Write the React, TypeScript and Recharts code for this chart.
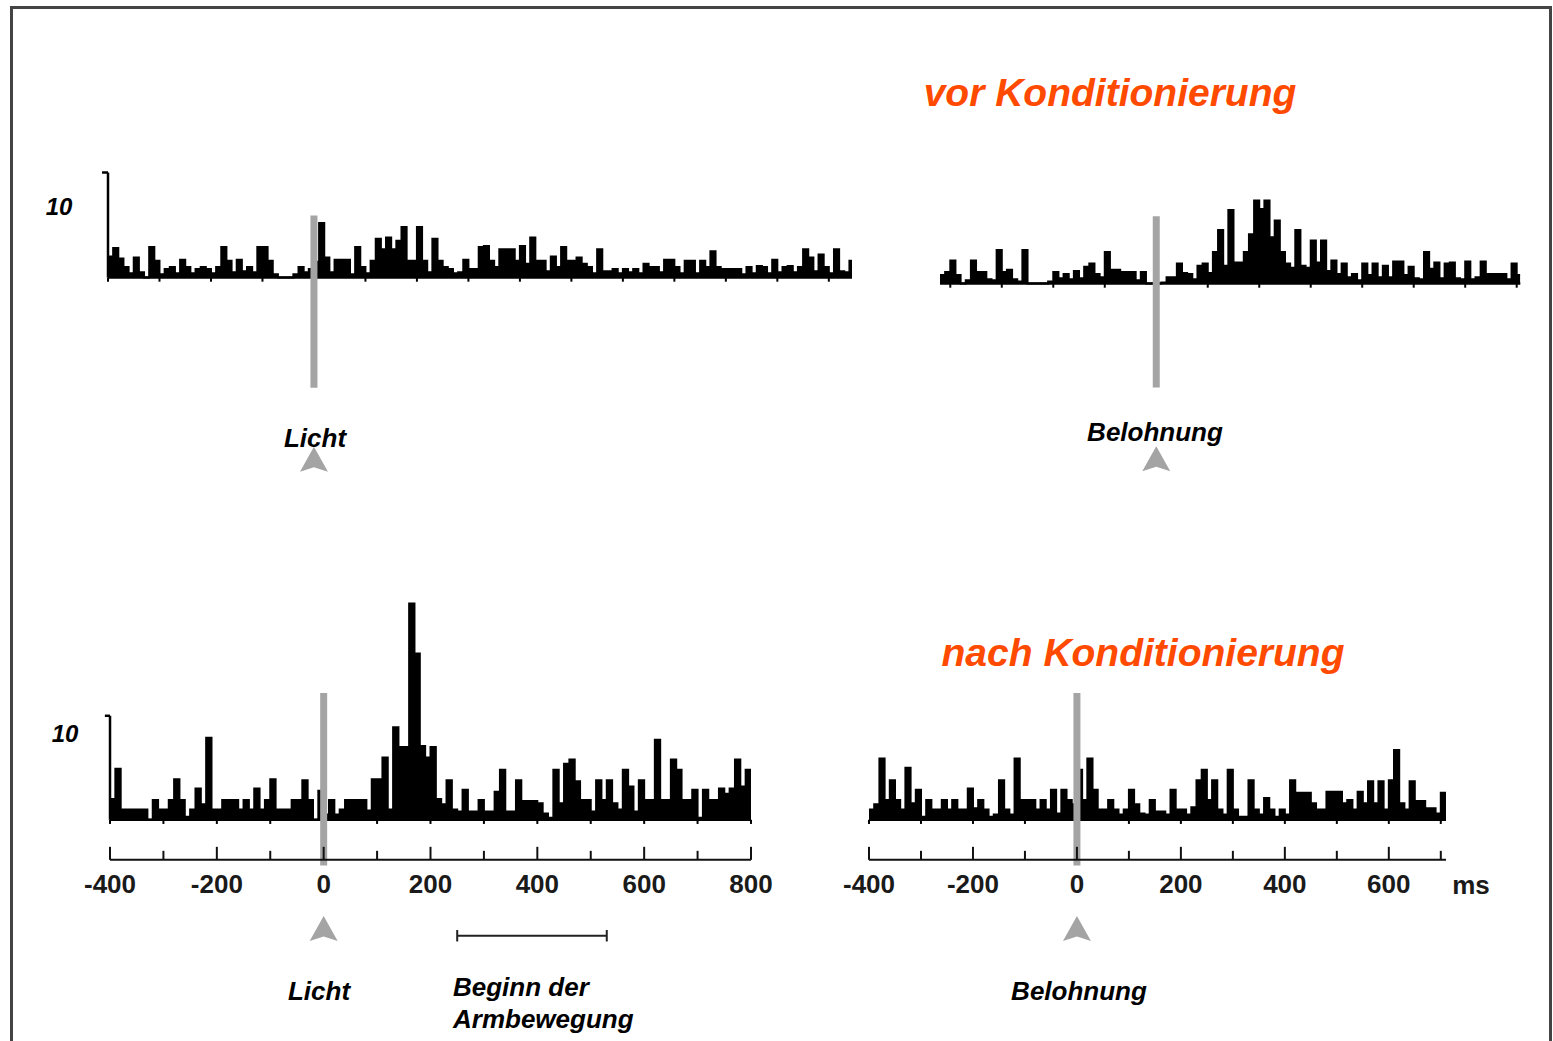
import React from 'react';
import { ComposedChart, Area, XAxis, YAxis, ReferenceLine, ReferenceDot } from 'recharts';

// bin width of all histograms, ms
const BIN = 10;

// vor Konditionierung, aligned on Licht (bins from -400 ms)
const vorLichtStart = -400;
const vorLichtEnd = 1045;
const vorLicht = [
  2.0, 2.8, 1.8, 1.0, 0.4, 1.9, 0.5, 0, 2.9, 1.6,
  0.3, 0.8, 1.0, 0.4, 1.7, 1.0, 0.4, 0.8, 1.0, 0.8,
  0.4, 1.0, 2.9, 1.6, 0.5, 1.7, 0.6, 1.0, 0.5, 2.9,
  2.9, 1.6, 0.3, 0, 0, 0, 0.3, 1.0, 0.5, 0.8,
  1.5, 5.2, 1.9, 0.5, 1.7, 1.7, 1.7, 0.3, 2.9, 1.0,
  0.4, 1.6, 3.7, 2.7, 3.8, 2.7, 3.5, 4.8, 1.6, 1.6,
  4.8, 1.6, 0.5, 3.7, 1.6, 1.0, 0.8, 0.4, 0.5, 1.7,
  0.8, 0.8, 2.9, 3.0, 1.6, 1.0, 2.7, 2.7, 2.7, 1.6,
  3.0, 1.3, 3.8, 1.6, 1.6, 0.6, 2.0, 1.0, 2.9, 1.6,
  1.6, 1.9, 1.3, 1.0, 0.4, 2.7, 0.6, 0.6, 0.8, 0.4,
  0.8, 0.5, 0.8, 0.4, 1.3, 1.0, 1.0, 0.5, 1.7, 1.7,
  1.0, 0.4, 1.6, 1.6, 0.4, 1.6, 1.0, 2.5, 1.0, 0.8,
  0.8, 0.8, 0.8, 0.3, 1.0, 0.4, 1.1, 1.0, 0.4, 1.7,
  0.5, 1.0, 1.1, 0.5, 1.0, 2.7, 1.9, 0.6, 2.2, 1.0,
  0.4, 2.7, 0.6, 0.5, 1.6,
];

// vor Konditionierung, aligned on Belohnung (bins from -420 ms)
const vorLohnStart = -420;
const vorLohnEnd = 707;
const vorLohn = [
  0.8, 1.1, 2.2, 0.8, 0, 0.3, 2.2, 1.1, 1.1, 0.4,
  0.3, 3.2, 1.1, 1.3, 0.4, 0.2, 3.2, 0, 0, 0,
  0, 0.2, 1.1, 0.5, 0.9, 0.4, 1.2, 0.5, 1.6, 1.9,
  0.9, 0.6, 3.0, 1.3, 1.3, 1.1, 1.1, 1.1, 0.3, 1.1,
  0, 0, 0, 0.1, 0.6, 0.6, 1.9, 1.0, 0.9, 0.4,
  1.7, 1.9, 1.0, 3.0, 5.1, 1.7, 7.0, 2.0, 2.0, 3.0,
  4.7, 7.9, 7.1, 7.9, 4.4, 6.0, 3.0, 1.9, 1.5, 5.1,
  1.7, 1.5, 4.1, 2.0, 4.1, 1.2, 2.2, 0.9, 1.9, 0.6,
  0.9, 0.3, 1.9, 0.8, 1.9, 0.6, 1.7, 0.6, 2.1, 2.1,
  0.8, 1.6, 0.5, 0.4, 3.0, 1.4, 2.0, 0.5, 1.9, 2.0,
  0.5, 0.4, 2.1, 0.4, 0.6, 2.1, 0.9, 0.9, 0.9, 0.9,
  0.4, 1.9, 0.8,
];

// nach Konditionierung, aligned on Licht
const nachLichtStart = -400;
const nachLichtEnd = 800;
const nachLicht = [
  2.0, 4.9, 1.0, 1.0, 1.0, 1.0, 1.0, 0, 1.9, 1.0,
  1.0, 1.9, 3.9, 1.9, 0.3, 1.0, 3.0, 1.5, 7.9, 1.0,
  1.0, 1.9, 1.9, 1.9, 1.0, 1.9, 1.0, 3.0, 1.0, 1.9,
  3.9, 1.0, 1.0, 1.0, 1.9, 1.9, 3.8, 1.9, 0, 2.8,
  0.5, 1.9, 0.5, 1.0, 1.9, 1.9, 1.9, 1.9, 0.9, 3.9,
  3.9, 6.0, 1.0, 8.9, 7.0, 7.0, 20.8, 16.0, 7.1, 6.0,
  7.0, 2.0, 1.5, 3.8, 1.0, 0.8, 2.9, 0.8, 0.8, 1.9,
  0.8, 0.8, 2.7, 4.8, 0.8, 0.8, 3.8, 1.8, 1.8, 1.8,
  1.6, 0.6, 0.2, 4.8, 1.6, 5.4, 5.8, 3.7, 1.9, 1.9,
  0.8, 3.8, 1.9, 3.8, 1.6, 1.0, 4.8, 3.2, 0.8, 3.8,
  1.9, 1.9, 7.7, 1.9, 1.9, 5.8, 4.8, 1.9, 1.9, 2.9,
  0.2, 2.9, 1.9, 1.9, 3.0, 2.5, 3.0, 5.8, 3.2, 4.8,
];

// nach Konditionierung, aligned on Belohnung
const nachLohnStart = -400;
const nachLohnEnd = 710;
const nachLohn = [
  1.0, 1.5, 5.9, 1.9, 3.8, 1.9, 1.0, 5.0, 1.6, 2.9,
  0.3, 1.9, 1.0, 1.0, 1.9, 1.0, 1.9, 1.0, 1.0, 3.0,
  1.1, 1.9, 1.0, 0.3, 0.5, 3.8, 1.0, 0.5, 5.9, 1.9,
  1.9, 1.9, 1.0, 1.9, 1.0, 2.9, 0.6, 2.9, 1.9, 1.5,
  4.8, 1.9, 5.9, 2.9, 1.0, 1.0, 1.9, 1.0, 0.5, 1.0,
  2.9, 1.5, 0.6, 0.5, 1.9, 0.8, 0.8, 0.5, 2.9, 1.0,
  1.0, 0.5, 1.2, 3.8, 4.8, 1.9, 3.8, 1.0, 0.5, 4.8,
  1.0, 0.3, 0.3, 3.8, 1.0, 0.5, 2.1, 1.0, 0.3, 1.0,
  0.5, 3.8, 2.6, 2.6, 2.6, 1.6, 1.0, 1.0, 2.7, 2.7,
  2.7, 1.6, 1.9, 1.0, 2.7, 1.6, 3.7, 1.6, 3.7, 1.0,
  3.8, 6.7, 1.6, 1.0, 3.7, 1.8, 1.8, 1.1, 1.1, 0.6,
  2.6,
];

// tick marks (every 100 ms) and labelled axis values
const ticksVorLicht = [-400, -300, -200, -100, 0, 100, 200, 300, 400, 500, 600, 700, 800, 900, 1000];
const ticksVorLohn = [-400, -300, -200, -100, 0, 100, 200, 300, 400, 500, 600, 700];
const ticksNachLicht = [-400, -300, -200, -100, 0, 100, 200, 300, 400, 500, 600, 700, 800];
const ticksNachLohn = [-400, -300, -200, -100, 0, 100, 200, 300, 400, 500, 600, 700];

// Beginn der Armbewegung, ms
const armRange = [250, 530];
const scaleValue = 10;

const FONT = '"Liberation Sans", Arial, sans-serif';
const CUE_GRAY = '#a4a4a4';
const ML = 40;
const MR = 40;
const MT = 10;
const AXIS_H = 40;
const MB = 110;

const toSteps = (vals: number[], start: number, end: number) => {
  const pts = vals.map((v, i) => ({ x: start + i * BIN, v }));
  pts.push({ x: end, v: vals[vals.length - 1] });
  return pts;
};

const AxisTick = (props: any) => {
  const { x, y, payload } = props;
  const major = payload.value % 200 === 0;
  return (
    <g>
      <line x1={x} x2={x} y1={y} y2={y - (major ? 13 : 9)} stroke="#111" strokeWidth={2} />
      {major && (
        <text x={x} y={y + 33} textAnchor="middle" fontFamily={FONT} fontWeight="bold" fontSize={26} fill="#1a1a1a">
          {payload.value}
        </text>
      )}
    </g>
  );
};

const Arrow = (props: any) => {
  const { cx, cy } = props;
  return (
    <path
      d={`M${cx},${cy - 12.5} L${cx + 14},${cy + 12.5} L${cx},${cy + 8} L${cx - 14},${cy + 12.5} Z`}
      fill={CUE_GRAY}
    />
  );
};

type PanelProps = {
  vals: number[];
  start: number;
  end: number;
  ticks: number[];
  x0: number;
  x1: number;
  base: number;
  k: number;
  yDomain: [number, number];
  cue: [number, number];
  arrowY: number;
  scaleBar?: boolean;
  axis?: boolean;
  bracketY?: number;
};

const Panel = (p: PanelProps) => {
  const data = toSteps(p.vals, p.start, p.end);
  const [yMin, yMax] = p.yDomain;
  const plotH = (yMax - yMin) * p.k;
  const plotTop = p.base - yMax * p.k;
  const width = p.x1 - p.x0 + ML + MR;
  const height = MT + plotH + (p.axis ? AXIS_H + MB : MT);
  const hook = (p.end - p.start) * 0.008;
  return (
    <div style={{ position: 'absolute', left: p.x0 - ML, top: plotTop - MT }}>
      <ComposedChart
        width={width}
        height={height}
        data={data}
        margin={{ top: MT, right: MR, left: ML, bottom: p.axis ? MB : MT }}
      >
        <XAxis
          type="number"
          dataKey="x"
          domain={[p.start, p.end]}
          allowDataOverflow
          hide={!p.axis}
          ticks={p.ticks}
          interval={0}
          height={AXIS_H}
          axisLine={{ stroke: '#111', strokeWidth: 2 }}
          tickLine={false}
          tickSize={0}
          tickMargin={0}
          tick={(tp: any) => <AxisTick {...tp} />}
        />
        <YAxis type="number" domain={p.yDomain} allowDataOverflow hide />
        <Area
          type="stepAfter"
          dataKey="v"
          baseValue={0}
          fill="#000"
          fillOpacity={1}
          stroke="#000"
          strokeWidth={2}
          dot={false}
          activeDot={false}
          isAnimationActive={false}
        />
        <ReferenceLine
          segment={[{ x: p.start, y: 0 }, { x: p.end, y: 0 }]}
          stroke="#000"
          strokeWidth={2.5}
          ifOverflow="visible"
        />
        {p.ticks.map((t) => (
          <ReferenceLine
            key={t}
            segment={[{ x: t, y: 0 }, { x: t, y: -0.4 }]}
            stroke="#000"
            strokeWidth={2}
            ifOverflow="visible"
          />
        ))}
        {p.scaleBar && (
          <ReferenceLine
            segment={[{ x: p.start, y: 0 }, { x: p.start, y: scaleValue }]}
            stroke="#000"
            strokeWidth={2.5}
            ifOverflow="visible"
          />
        )}
        {p.scaleBar && (
          <ReferenceLine
            segment={[{ x: p.start - hook, y: scaleValue }, { x: p.start, y: scaleValue }]}
            stroke="#000"
            strokeWidth={2.5}
            ifOverflow="visible"
          />
        )}
        <ReferenceLine
          segment={[{ x: 0, y: p.cue[0] }, { x: 0, y: p.cue[1] }]}
          stroke={CUE_GRAY}
          strokeWidth={7}
          ifOverflow="visible"
        />
        <ReferenceDot x={0} y={p.arrowY} r={12} shape={(dp: any) => <Arrow {...dp} />} ifOverflow="visible" />
        {p.bracketY !== undefined && (
          <ReferenceLine
            segment={[{ x: armRange[0], y: p.bracketY }, { x: armRange[1], y: p.bracketY }]}
            stroke="#222"
            strokeWidth={2}
            ifOverflow="visible"
          />
        )}
        {p.bracketY !== undefined &&
          armRange.map((a) => (
            <ReferenceLine
              key={a}
              segment={[{ x: a, y: p.bracketY! + 0.55 }, { x: a, y: p.bracketY! - 0.55 }]}
              stroke="#222"
              strokeWidth={2}
              ifOverflow="visible"
            />
          ))}
      </ComposedChart>
    </div>
  );
};

const Label = ({ x, y, text, size = 26, color = '#000', italic = true, align = 'center' }: any) => (
  <div
    style={{
      position: 'absolute',
      left: x,
      top: y,
      transform: align === 'center' ? 'translate(-50%, -50%)' : 'translate(0, -50%)',
      fontFamily: FONT,
      fontWeight: 'bold',
      fontStyle: italic ? 'italic' : 'normal',
      fontSize: size,
      color,
      whiteSpace: 'nowrap',
      lineHeight: 1,
    }}
  >
    {text}
  </div>
);

export default function App() {
  return (
    <div
      style={{
        position: 'absolute',
        left: 0,
        top: 0,
        width: 1553,
        height: 1041,
        background: '#fff',
        overflow: 'hidden',
      }}
    >
      <div
        style={{
          position: 'absolute',
          left: 10,
          top: 6,
          width: 1542,
          height: 1100,
          border: '3px solid #444',
          boxSizing: 'border-box',
        }}
      />

      <Panel
        vals={vorLicht}
        start={vorLichtStart}
        end={vorLichtEnd}
        ticks={ticksVorLicht}
        x0={108}
        x1={852}
        base={277}
        k={10.5}
        yDomain={[-19, 11]}
        cue={[5.9, -10.5]}
        arrowY={-17.3}
        scaleBar
      />
      <Panel
        vals={vorLohn}
        start={vorLohnStart}
        end={vorLohnEnd}
        ticks={ticksVorLohn}
        x0={939.7}
        x1={1520}
        base={283}
        k={10.5}
        yDomain={[-19, 11]}
        cue={[6.4, -9.9]}
        arrowY={-16.7}
      />
      <Panel
        vals={nachLicht}
        start={nachLichtStart}
        end={nachLichtEnd}
        ticks={ticksNachLicht}
        x0={110}
        x1={751}
        base={820}
        k={10.4}
        yDomain={[-3.85, 22]}
        cue={[12.2, -4.4]}
        arrowY={-10.45}
        scaleBar
        axis
        bracketY={-11.15}
      />
      <Panel
        vals={nachLohn}
        start={nachLohnStart}
        end={nachLohnEnd}
        ticks={ticksNachLohn}
        x0={869}
        x1={1446}
        base={820}
        k={10.4}
        yDomain={[-3.85, 22]}
        cue={[12.2, -4.4]}
        arrowY={-10.45}
        axis
      />

      <Label x={1110} y={92} text="vor Konditionierung" size={39} color="#ff4a00" />
      <Label x={1143} y={652} text="nach Konditionierung" size={39} color="#ff4a00" />
      <Label x={59} y={207} text="10" size={24} />
      <Label x={65} y={734} text="10" size={24} />
      <Label x={315} y={438} text="Licht" />
      <Label x={1155} y={432} text="Belohnung" />
      <Label x={319} y={991} text="Licht" />
      <Label x={453} y={987} text="Beginn der" align="left" />
      <Label x={453} y={1019} text="Armbewegung" align="left" />
      <Label x={1079} y={991} text="Belohnung" />
      <Label x={1471} y={885} text="ms" italic={false} color="#1a1a1a" />
    </div>
  );
}
